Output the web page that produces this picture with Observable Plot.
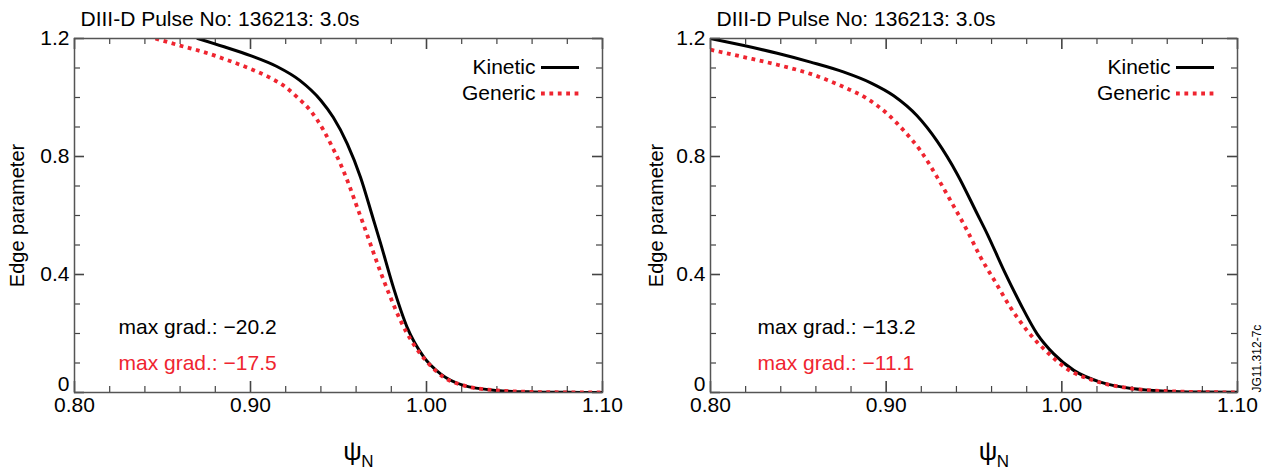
<!DOCTYPE html>
<html><head><meta charset="utf-8">
<script src="https://cdn.jsdelivr.net/npm/d3@7"></script>
<script src="https://cdn.jsdelivr.net/npm/@observablehq/plot@0.6"></script>
<style>
html,body{margin:0;padding:0;background:#fff;}
#wrap{position:relative;width:1276px;height:472px;overflow:hidden;background:#fff;}
.panel{position:absolute;top:0;}
</style></head><body><div id="wrap"></div>
<script>
// ---- tick values ----
const xTickLabels = [0.80, 0.90, 1.00, 1.10];
const xMinorTicks = [0.82, 0.84, 0.86, 0.88, 0.92, 0.94, 0.96, 0.98, 1.02, 1.04, 1.06, 1.08];
const yTickLabels = [0, 0.4, 0.8, 1.2];
const yMinorTicks = [0.1, 0.2, 0.3, 0.5, 0.6, 0.7, 0.9, 1.0, 1.1];
const xDomain = [0.8, 1.1];
const yDomain = [0, 1.2];

// ---- labels ----
const seriesNames = ["Kinetic", "Generic"];
const panelTitles = ["DIII-D Pulse No: 136213: 3.0s", "DIII-D Pulse No: 136213: 3.0s"];
const yAxisLabel = "Edge parameter";
const maxGradKinetic = [-20.2, -13.2];
const maxGradGeneric = [-17.5, -11.1];
const stampText = "JG11.312-7c";

// ---- left panel series ----
const leftKineticX = [0.870, 0.885, 0.900, 0.915, 0.928, 0.940, 0.947, 0.955, 0.9625, 0.9697, 0.974, 0.9814, 0.989, 0.9985, 1.008, 1.021, 1.040, 1.059, 1.080, 1.100];
const leftKineticY = [1.200, 1.172, 1.142, 1.105, 1.058, 0.990, 0.933, 0.843, 0.730, 0.589, 0.504, 0.352, 0.221, 0.120, 0.063, 0.024, 0.007, 0.002, 0.0005, 0.000];
const leftGenericX = [0.846, 0.860, 0.8735, 0.8868, 0.900, 0.9114, 0.920, 0.9265, 0.934, 0.9416, 0.9464, 0.9511, 0.9559, 0.9606, 0.9644, 0.9691, 0.9739, 0.9795, 0.9852, 0.9919, 1.0004, 1.0098, 1.021, 1.040, 1.060, 1.080, 1.100];
const leftGenericY = [1.200, 1.176, 1.154, 1.127, 1.097, 1.066, 1.035, 1.001, 0.956, 0.888, 0.833, 0.775, 0.705, 0.628, 0.566, 0.487, 0.408, 0.323, 0.244, 0.171, 0.103, 0.052, 0.024, 0.007, 0.002, 0.0005, 0.000];

// ---- right panel series ----
const rightKineticX = [0.800, 0.819, 0.838, 0.857, 0.876, 0.8915, 0.9043, 0.9176, 0.929, 0.9404, 0.9518, 0.9575, 0.967, 0.9764, 0.9859, 0.9954, 1.0068, 1.022, 1.041, 1.060, 1.080, 1.100];
const rightKineticY = [1.200, 1.176, 1.150, 1.120, 1.086, 1.049, 1.006, 0.938, 0.852, 0.741, 0.606, 0.538, 0.414, 0.301, 0.199, 0.131, 0.075, 0.035, 0.0125, 0.0045, 0.0015, 0.0005];
const rightGenericX = [0.800, 0.819, 0.838, 0.857, 0.876, 0.8892, 0.9006, 0.910, 0.9195, 0.929, 0.9366, 0.9461, 0.9537, 0.9622, 0.9707, 0.9802, 0.9916, 1.003, 1.018, 1.041, 1.060, 1.080, 1.100];
const rightGenericY = [1.162, 1.137, 1.111, 1.080, 1.035, 0.996, 0.945, 0.888, 0.820, 0.730, 0.651, 0.549, 0.459, 0.374, 0.289, 0.210, 0.137, 0.080, 0.041, 0.0125, 0.0045, 0.0015, 0.0005];

const RED = "#ef2530";
const AXIS = "#555";
const FONT = "'Liberation Sans', Arial, Helvetica, sans-serif";
const DOTS = "3.8,4.6";

function fmtGrad(v) { return "max grad.: \u2212" + Math.abs(v).toFixed(1); }

function panel(p) {
  const W = 638, H = 472, mt = 38, mb = 80;
  const FH = H - mt - mb, FW = W - p.ml - p.mr;
  const kin = p.kx.map((x, i) => ({x, y: p.ky[i]}));
  const gen = p.gx.map((x, i) => ({x, y: p.gy[i]}));
  const fs = 21;
  const tick = {stroke: "#444", strokeWidth: 1.2};
  const marks = [
    // inward ticks
    Plot.ruleX(xMinorTicks, {x: d => d, insetTop: FH - 6, ...tick}),
    Plot.ruleX(xMinorTicks, {x: d => d, insetBottom: FH - 6, ...tick}),
    Plot.ruleX(xTickLabels, {x: d => d, insetTop: FH - 11, ...tick, strokeWidth: 1.6}),
    Plot.ruleX(xTickLabels, {x: d => d, insetBottom: FH - 11, ...tick, strokeWidth: 1.6}),
    Plot.ruleY(yMinorTicks, {y: d => d, insetRight: FW - 6, ...tick}),
    Plot.ruleY(yMinorTicks, {y: d => d, insetLeft: FW - 6, ...tick}),
    Plot.ruleY(yTickLabels, {y: d => d, insetRight: FW - 10, ...tick, strokeWidth: 1.6}),
    Plot.ruleY(yTickLabels, {y: d => d, insetLeft: FW - 10, ...tick, strokeWidth: 1.6}),
    // curves
    Plot.line(kin, {x: "x", y: "y", stroke: "#000", strokeWidth: 3, curve: "monotone-x", clip: true}),
    Plot.line(gen, {x: "x", y: "y", stroke: RED, strokeWidth: 3.8, strokeDasharray: DOTS, strokeLinecap: "butt", curve: "monotone-x", clip: true}),
    Plot.frame({stroke: AXIS, strokeWidth: 1.5}),
    // tick labels
    Plot.text(xTickLabels, {x: d => d, frameAnchor: "bottom", lineAnchor: "top", dy: 5, text: d => d.toFixed(2), fontSize: fs, fill: "#000"}),
    Plot.text(yTickLabels.filter(d => d > 0), {y: d => d, frameAnchor: "left", textAnchor: "end", lineAnchor: "middle", dx: -5, text: d => String(d), fontSize: fs, fill: "#000"}),
    Plot.text(yTickLabels.filter(d => d === 0), {y: d => d, frameAnchor: "left", textAnchor: "end", lineAnchor: "middle", dx: -5, dy: -8, text: d => String(d), fontSize: fs, fill: "#000"}),
    // title
    Plot.text([p.title], {frameAnchor: "top-left", textAnchor: "start", lineAnchor: "middle", dx: 6, dy: -19, text: d => d, fontSize: fs, fill: "#000"}),
    // y axis label
    Plot.text([yAxisLabel], {frameAnchor: "left", rotate: -90, textAnchor: "middle", lineAnchor: "middle", dx: -p.yLabelOff, text: d => d, fontSize: 20, fill: "#000"}),
    // x axis label psi_N
    Plot.text(["\u03c8"], {frameAnchor: "bottom", textAnchor: "middle", lineAnchor: "middle", dx: 14, dy: 59, text: d => d, fontSize: 26, fill: "#000"}),
    Plot.text(["N"], {frameAnchor: "bottom", textAnchor: "middle", lineAnchor: "middle", dx: 29, dy: 69, text: d => d, fontSize: 17, fill: "#000"}),
    // legend
    Plot.text([seriesNames[0]], {frameAnchor: "top-right", textAnchor: "end", lineAnchor: "middle", dx: -67, dy: 29, text: d => d, fontSize: fs, fill: "#000"}),
    Plot.text([seriesNames[1]], {frameAnchor: "top-right", textAnchor: "end", lineAnchor: "middle", dx: -67, dy: 55, text: d => d, fontSize: fs, fill: "#000"}),
    Plot.ruleY([yDomain[1]], {y: d => d, dy: 29, insetLeft: FW - 61, insetRight: 23, stroke: "#000", strokeWidth: 3.2}),
    Plot.ruleY([yDomain[1]], {y: d => d, dy: 55, insetLeft: FW - 61, insetRight: 23, stroke: RED, strokeWidth: 3.8, strokeDasharray: DOTS, strokeLinecap: "butt"}),
    // annotations
    Plot.text([fmtGrad(p.gradK)], {frameAnchor: "bottom-left", textAnchor: "start", lineAnchor: "middle", dx: p.annDx, dy: -65, text: d => d, fontSize: fs, fill: "#000"}),
    Plot.text([fmtGrad(p.gradG)], {frameAnchor: "bottom-left", textAnchor: "start", lineAnchor: "middle", dx: p.annDx, dy: -29, text: d => d, fontSize: fs, fill: RED})
  ];
  if (p.stamp) {
    marks.push(Plot.text([stampText], {frameAnchor: "bottom-right", textAnchor: "start", lineAnchor: "middle", rotate: -90, dx: 20, dy: 0, text: d => d, fontSize: 12, fill: "#000"}));
  }
  return Plot.plot({
    width: W, height: H,
    marginTop: mt, marginBottom: mb, marginLeft: p.ml, marginRight: p.mr,
    x: {domain: xDomain, axis: null},
    y: {domain: yDomain, axis: null},
    style: {fontFamily: FONT, background: "transparent", overflow: "visible"},
    marks
  });
}

const wrap = document.getElementById("wrap");
const left = panel({kx: leftKineticX, ky: leftKineticY, gx: leftGenericX, gy: leftGenericY, title: panelTitles[0], gradK: maxGradKinetic[0], gradG: maxGradGeneric[0], ml: 74, mr: 36, yLabelOff: 57, annDx: 44, stamp: false});
left.classList.add("panel"); left.style.left = "0px";
const right = panel({kx: rightKineticX, ky: rightKineticY, gx: rightGenericX, gy: rightGenericY, title: panelTitles[1], gradK: maxGradKinetic[1], gradG: maxGradGeneric[1], ml: 72, mr: 39, yLabelOff: 54, annDx: 47, stamp: true});
right.classList.add("panel"); right.style.left = "638px";
wrap.appendChild(left);
wrap.appendChild(right);
</script>
</body></html>
